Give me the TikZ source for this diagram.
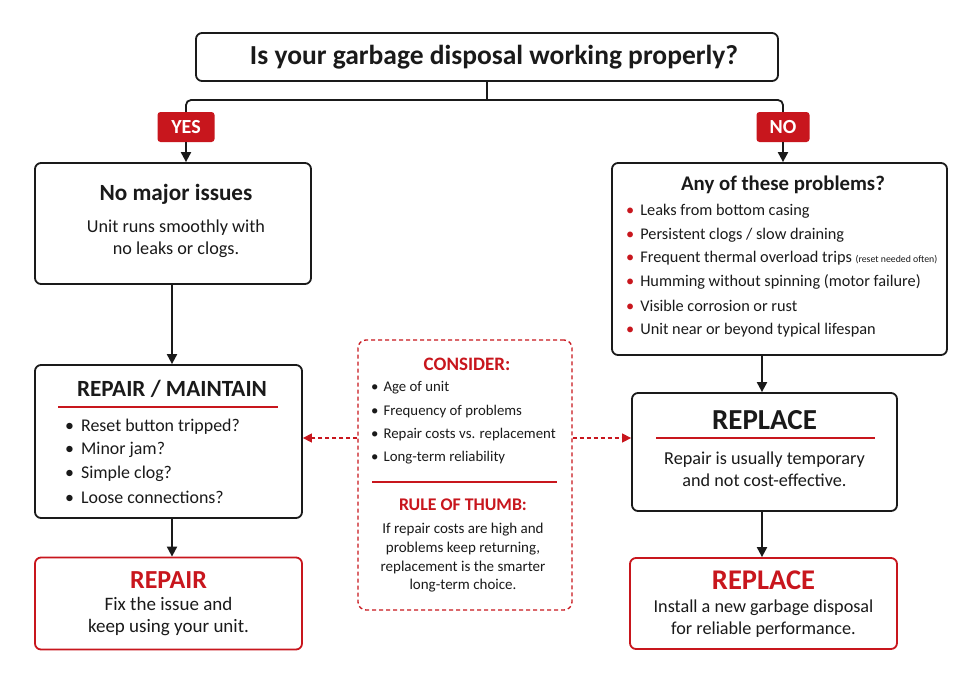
\documentclass[tikz,border=0pt]{standalone}
\usepackage{fontspec}
\setmainfont{Carlito}
\usetikzlibrary{arrows.meta}
\definecolor{redmark}{HTML}{C8161D}
\definecolor{inkline}{HTML}{1A1A1A}
\tikzset{
  box/.style={draw=inkline, line width=1.8pt, rounded corners=6pt, fill=white, inner sep=0pt},
  redbox/.style={draw=redmark, line width=1.8pt, rounded corners=6pt, fill=white, inner sep=0pt},
  notebox/.style={draw=redmark, line width=1.3pt, dash pattern=on 4pt off 3pt, rounded corners=8pt, inner sep=0pt},
  badge/.style={fill=redmark, rounded corners=3pt, text=white, inner sep=0pt, minimum height=30pt,
    font=\bfseries\fontsize{20}{22}\selectfont},
  head/.style={text=inkline, font=\bfseries\fontsize{#1}{#1}\selectfont},
  redhead/.style={text=redmark, font=\bfseries\fontsize{#1}{#1}\selectfont},
  body/.style={text=inkline, align=center, font=\fontsize{18.2}{22}\selectfont},
  item/.style={text=inkline, anchor=west, inner sep=0pt, font=\fontsize{#1}{#1}\selectfont},
  rule/.style={draw=redmark, line width=1.2pt},
  flow/.style={-{Triangle[length=10pt,width=10pt]}, line width=2pt, draw=inkline},
  hint/.style={-{Triangle[length=9pt,width=9pt]}, line width=1.3pt, draw=redmark, dash pattern=on 4pt off 3pt},
}
\begin{document}
\begin{tikzpicture}[x=1pt, y=-1pt]
  \fill[white] (0,0) rectangle (980,683);
  \useasboundingbox (0,0) rectangle (980,683);

  % question
  \node[box, minimum width=582, minimum height=48] (ask) at (487,57) {};
  \node[head=27.5] (askt) at (494,57) {Is your garbage disposal working properly?};

  \node[badge, minimum width=57] (yes) at (186,127) {YES};
  \node[badge, minimum width=53] (no) at (783,127) {NO};
  \coordinate (split) at (487,100);
  \coordinate (lane) at (172,0);
  \coordinate (drop) at (762,0);

  % left branch
  \node[box, minimum width=276, minimum height=121] (okbox) at (173,223.5) {};
  \node[head=23.2] (okt) at (176,194) {No major issues};
  \node[body] (okb) at (176,239) {Unit runs smoothly with\\no leaks or clogs.};

  \node[box, minimum width=267, minimum height=153] (maintbox) at (168.5,441.5) {};
  \node[head=23.2] (maintt) at (172,389) {REPAIR / MAINTAIN};
  \draw[rule] (58,407) -- (278,407);
  \foreach \txt [count=\i] in {Reset button tripped?, Minor jam?, Simple clog?, Loose connections?}
    \node[item=17.9] (maint\i) at (65,427+23.3*\i-23.3) {\textbullet\hspace{7pt}\txt};

  \node[redbox, minimum width=267, minimum height=92] (repairbox) at (168.5,603.5) {};
  \node[redhead=26] (repairt) at (168.5,580) {REPAIR};
  \node[body, font=\fontsize{19}{22}\selectfont] (repairb) at (168.5,617) {Fix the issue and\\keep using your unit.};

  % right branch
  \node[box, minimum width=335, minimum height=192] (probbox) at (779.5,259) {};
  \node[head=20.8] (probt) at (783,185) {Any of these problems?};
  \foreach \txt [count=\i] in {Leaks from bottom casing, Persistent clogs / slow draining,
      Frequent thermal overload trips {\fontsize{9.8}{12}\selectfont(reset needed often)},
      Humming without spinning (motor failure), Visible corrosion or rust,
      Unit near or beyond typical lifespan}
    \node[item=16.3] (prob\i) at (626,211+23.8*\i-23.8) {{\color{redmark}\textbullet}\hspace{6pt}\txt};

  \node[box, minimum width=265, minimum height=118] (replbox) at (764.5,452) {};
  \node[head=29] (replt) at (764.5,420) {REPLACE};
  \draw[rule] (656,438) -- (875,438);
  \node[body] (replb) at (764.5,469.5) {Repair is usually temporary\\and not cost-effective.};

  \node[redbox, minimum width=267, minimum height=91] (finalbox) at (763.5,603.5) {};
  \node[redhead=28.5] (finalt) at (763.5,580) {REPLACE};
  \node[body] (finalb) at (763.5,618.5) {Install a new garbage disposal\\for reliable performance.};

  % middle note
  \node[notebox, minimum width=214, minimum height=270] (note) at (465,475) {};
  \node[redhead=19] (considt) at (467,364) {CONSIDER:};
  \foreach \txt [count=\i] in {Age of unit, Frequency of problems, Repair costs vs. replacement, Long-term reliability}
    \node[item=14.8] (consid\i) at (371,388+23.3*\i-23.3) {\textbullet\hspace{5pt}\txt};
  \draw[rule] (372,482) -- (557,482);
  \node[redhead=17.8] (thumbt) at (463,505) {RULE OF THUMB:};
  \node[body, font=\fontsize{15}{18.7}\selectfont] (thumbb) at (463,558)
    {If repair costs are high and\\problems keep returning,\\replacement is the smarter\\long-term choice.};
  \coordinate (cross) at (465,438);

  % connectors
  \draw[line width=1.8pt, draw=inkline] (ask.south) -- (split);
  \draw[line width=1.8pt, draw=inkline, rounded corners=5pt] (split) -| (yes.north);
  \draw[line width=1.8pt, draw=inkline, rounded corners=5pt] (split) -| (no.north);
  \draw[flow] (yes.south) -- (yes.south |- okbox.north);
  \draw[flow] (no.south) -- (no.south |- probbox.north);
  \draw[flow] (lane |- okbox.south) -- (lane |- maintbox.north);
  \draw[flow] (lane |- maintbox.south) -- (lane |- repairbox.north);
  \draw[flow] (drop |- probbox.south) -- (drop |- replbox.north);
  \draw[flow] (drop |- replbox.south) -- (drop |- finalbox.north);
  \draw[hint] (cross -| note.west) -- (cross -| maintbox.east);
  \draw[hint] (cross -| note.east) -- (cross -| replbox.west);
\end{tikzpicture}
\end{document}
